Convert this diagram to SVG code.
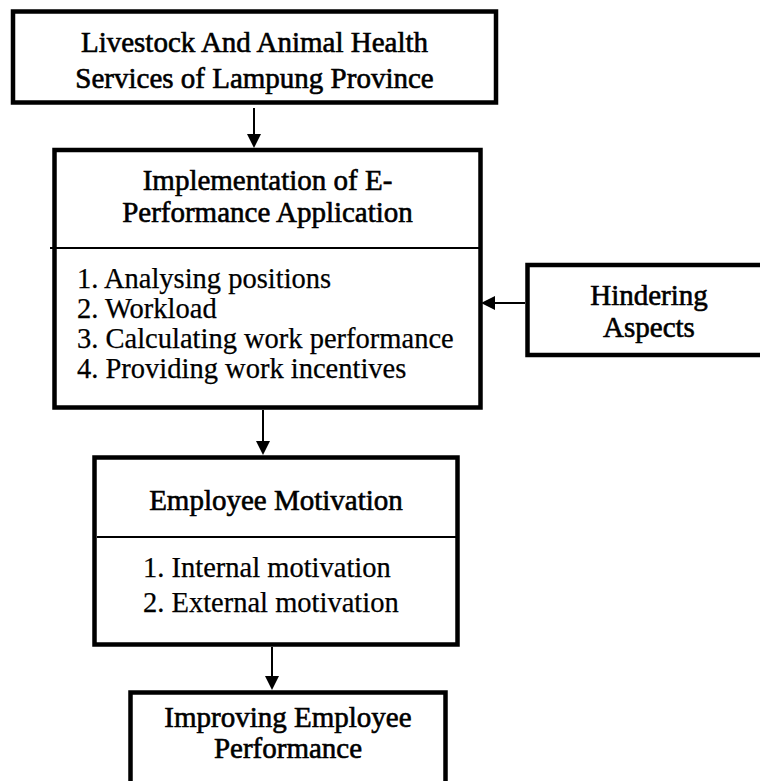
<svg xmlns="http://www.w3.org/2000/svg" width="760" height="781" viewBox="0 0 760 781">
<style>
.box{fill:#fff;stroke:#000;stroke-width:4.5}
.div{stroke:#000;stroke-width:2}
.t{font-family:"Liberation Serif","Times New Roman",serif;font-size:29px;fill:#000;stroke:#000;stroke-width:0.6;text-anchor:middle}
.l{font-family:"Liberation Serif","Times New Roman",serif;font-size:28.5px;fill:#000;stroke:#000;stroke-width:0.25}
.c{stroke:#000;stroke-width:2;fill:none;marker-end:url(#ah)}
</style>
<defs>
<marker id="ah" markerUnits="userSpaceOnUse" viewBox="0 0 14 14" refX="2" refY="7" markerWidth="14" markerHeight="14" orient="auto">
<path d="M0,0 L14,7 L0,14 z" fill="#000"/>
</marker>
</defs>
<rect width="760" height="781" fill="#fff"/>
<g id="connectors">
<line class="c" x1="254" y1="108" x2="254" y2="136"/>
<line class="c" x1="263" y1="410" x2="263" y2="443"/>
<line class="c" x1="272" y1="647" x2="272" y2="678"/>
<line class="c" x1="525" y1="303" x2="493" y2="303"/>
</g>
<g id="livestock">
<rect class="box" x="13" y="11.5" width="483" height="91"/>
<text class="t" x="254.5" y="52">Livestock And Animal Health</text>
<text class="t" x="254.5" y="88">Services of Lampung Province</text>
</g>
<g id="implementation">
<rect class="box" x="54.5" y="150" width="426" height="257.5"/>
<line class="div" x1="50" y1="248" x2="480" y2="248"/>
<text class="t" x="267.5" y="190">Implementation of E-</text>
<text class="t" x="267.5" y="222">Performance Application</text>
<text class="l" x="77" y="288">1. Analysing positions</text>
<text class="l" x="77" y="318">2. Workload</text>
<text class="l" x="77" y="348">3. Calculating work performance</text>
<text class="l" x="77" y="378">4. Providing work incentives</text>
</g>
<g id="hindering">
<rect class="box" x="527.5" y="265" width="240" height="90"/>
<text class="t" x="649" y="305">Hindering</text>
<text class="t" x="649" y="337">Aspects</text>
</g>
<g id="motivation">
<rect class="box" x="94.5" y="457.5" width="363" height="187"/>
<line class="div" x1="97" y1="537" x2="456" y2="537"/>
<text class="t" x="276" y="510">Employee Motivation</text>
<text class="l" x="143" y="577">1. Internal motivation</text>
<text class="l" x="143" y="612">2. External motivation</text>
</g>
<g id="performance">
<rect class="box" x="130.5" y="692.5" width="315" height="120"/>
<text class="t" x="288" y="727">Improving Employee</text>
<text class="t" x="288" y="758">Performance</text>
</g>
</svg>
